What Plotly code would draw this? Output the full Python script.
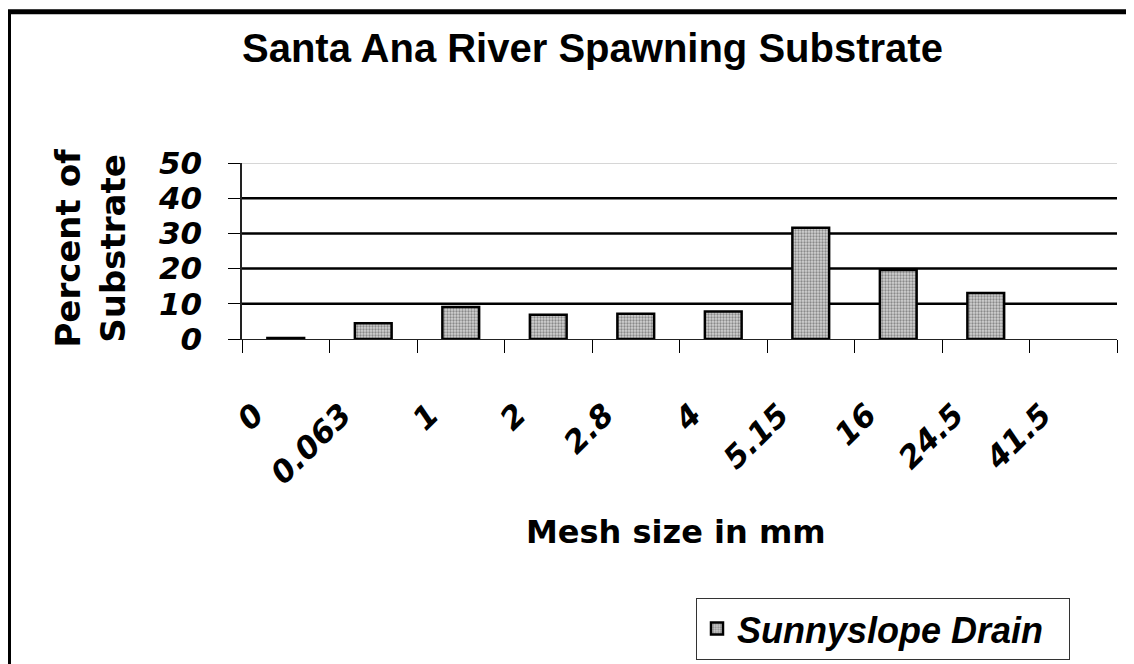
import plotly.graph_objects as go

# ---- data ----
categories = ["0", "0.063", "1", "2", "2.8", "4", "5.15", "16", "24.5", "41.5"]
percent = [0.3, 4.5, 9.1, 6.9, 7.2, 7.8, 31.6, 19.6, 13.1, 0]
series_name = "Sunnyslope Drain"
y_ticks = [0, 10, 20, 30, 40, 50]
grid_vals = [10, 20, 30, 40]
chart_title = "Santa Ana River Spawning Substrate"
x_title = "Mesh size in mm"
y_title = "Percent of<br>Substrate"

# ---- layout geometry (screen pixels) ----
W, H = 1134, 664
OX, OY = 8, 8          # page body margin offset
L, R, T, B = 242, 1117, 163, 344


def px(x):
    return (x - L) / (R - L)


def py(y):
    return (B - y) / (B - T)


ARIAL = "Liberation Sans, Arial"
WIDE = "DejaVu Sans"

fig = go.Figure(
    go.Bar(
        x=categories,
        y=percent,
        name=series_name + "\u00a0\u00a0",
        showlegend=True,
        marker=dict(
            color="#cccccc",
            line=dict(color="black", width=[2.5 if v > 0 else 0 for v in percent]),
            pattern=dict(shape=".", fgcolor="#404040", bgcolor="#d2d2d2",
                         size=3, solidity=0.45),
        ),
    )
)

shapes = []
for g in grid_vals:
    shapes.append(dict(type="line", xref="paper", yref="y", x0=0, x1=1, y0=g, y1=g,
                       line=dict(color="black", width=2.5), layer="below"))
shapes.append(dict(type="line", xref="paper", yref="y", x0=0, x1=1, y0=50, y1=50,
                   line=dict(color="#c8c8c8", width=1.5), layer="below"))
# outer chart border
shapes.append(dict(type="rect", xref="paper", yref="paper",
                   x0=px(8.5), x1=px(1160), y0=py(690), y1=py(7.5),
                   line=dict(color="black", width=5), fillcolor="rgba(0,0,0,0)"))

annotations = [
    dict(text=chart_title, xref="paper", yref="paper", x=px(592), y=py(45),
         xanchor="center", yanchor="middle", showarrow=False,
         font=dict(family=ARIAL, size=40, color="black", weight="bold")),
    dict(text=x_title, xref="paper", yref="paper", x=px(676), y=py(542),
         xanchor="center", yanchor="middle", showarrow=False,
         font=dict(family=WIDE, size=32, color="black", weight="bold")),
    dict(text=y_title, xref="paper", yref="paper", x=px(90), y=py(250),
         xanchor="center", yanchor="middle", showarrow=False, textangle=-90,
         font=dict(family=WIDE, size=34, color="black", weight="bold")),
]

tickfont = dict(family=WIDE, size=31, color="black", weight="bold", style="italic")

fig.update_layout(
    width=W, height=H,
    margin=dict(l=L - OX, r=W - (R - OX), t=T - OY, b=H - (B - OY), pad=0),
    paper_bgcolor="white", plot_bgcolor="white",
    bargap=0.58,
    shapes=shapes,
    annotations=annotations,
    xaxis=dict(type="category", tickson="boundaries", ticks="outside", ticklen=13,
               tickcolor="black", tickwidth=1, showline=True, linecolor="#222",
               linewidth=1, showgrid=False, tickangle=-45, tickfont=tickfont,
               ticklabelshift=-31, ticklabelstandoff=44),
    yaxis=dict(range=[0, 50], tickvals=y_ticks, ticks="outside", ticklen=12,
               tickcolor="black", tickwidth=1, showline=True, linecolor="#222",
               linewidth=1.5, showgrid=False, zeroline=False, tickfont=tickfont,
               ticklabelstandoff=20),
    legend=dict(x=px(1070), xanchor="right", y=py(610), yanchor="top",
                bordercolor="#333", borderwidth=1, bgcolor="white",
                font=dict(family=ARIAL, size=36, color="black", weight="bold",
                          style="italic")),
)

fig.write_html("out.html")
